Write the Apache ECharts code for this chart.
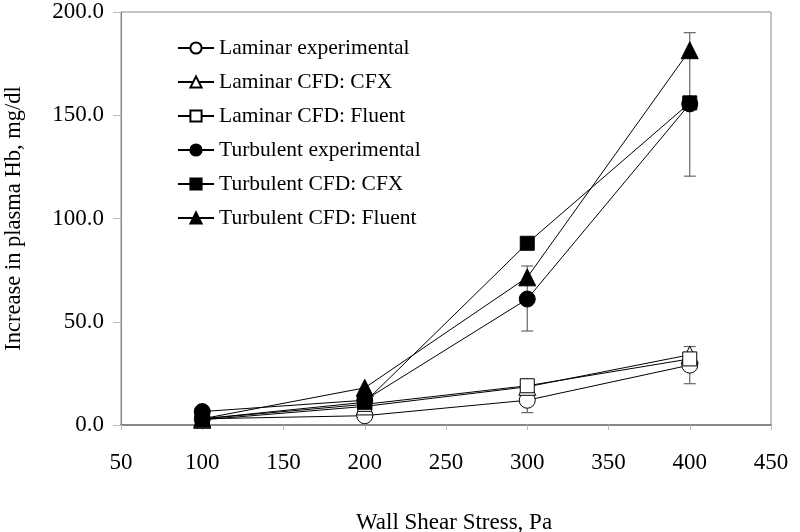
<!DOCTYPE html>
<html>
<head>
<meta charset="utf-8">
<script src="https://cdn.jsdelivr.net/npm/echarts@6/dist/echarts.min.js"></script>
<style>html,body{margin:0;padding:0;background:#fff}#c{width:800px;height:532px}</style>
</head>
<body>
<div id="c"></div>
<script>
const xValues = [100, 200, 300, 400];
const seriesNames = ["Laminar experimental", "Laminar CFD: CFX", "Laminar CFD: Fluent", "Turbulent experimental", "Turbulent CFD: CFX", "Turbulent CFD: Fluent"];
const laminarExp = [3.0, 4.5, 12.0, 29.0];
const laminarCFX = [2.5, 9.0, 18.5, 34.0];
const laminarFluent = [3.0, 10.0, 19.0, 32.0];
const turbulentExp = [6.5, 12.0, 61.0, 155.5];
const turbulentCFX = [3.0, 11.0, 88.0, 156.0];
const turbulentFluent = [3.0, 18.0, 71.5, 181.5];
const laminarExpLow = [1.5, 3.0, 6.0, 20.0];
const laminarExpHigh = [4.5, 6.0, 19.0, 38.0];
const turbulentExpLow = [5.0, 10.0, 45.5, 120.5];
const turbulentExpHigh = [8.0, 14.0, 77.0, 190.0];
const yTicks = [0, 50, 100, 150, 200];

const FONT = "Liberation Serif";
const chart = echarts.init(document.getElementById('c'), null, {renderer: 'canvas'});

const pairs = ys => xValues.map((x, i) => [x, ys[i]]);
const errData = (lo, hi) => xValues.map((x, i) => [x, lo[i], hi[i]]);

function lineSeries(name, ys, symbol, filled, size) {
  return {
    name, type: 'line', data: pairs(ys), symbol, symbolSize: size,
    lineStyle: {color: '#000', width: 1},
    itemStyle: {color: filled ? '#000' : '#fff', borderColor: '#000', borderWidth: 1},
    z: filled ? 4 : 3, animation: false
  };
}

function errSeries(data) {
  return {
    type: 'custom', data, silent: true, z: 2, animation: false,
    renderItem: (params, api) => {
      const lo = api.coord([api.value(0), api.value(1)]);
      const hi = api.coord([api.value(0), api.value(2)]);
      const w = 6;
      const st = {stroke: '#666', lineWidth: 1.2};
      return {type: 'group', children: [
        {type: 'line', shape: {x1: lo[0], y1: lo[1], x2: hi[0], y2: hi[1]}, style: st},
        {type: 'line', shape: {x1: lo[0]-w, y1: lo[1], x2: lo[0]+w, y2: lo[1]}, style: st},
        {type: 'line', shape: {x1: hi[0]-w, y1: hi[1], x2: hi[0]+w, y2: hi[1]}, style: st}
      ]};
    }
  };
}

chart.setOption({
  backgroundColor: '#fff',
  animation: false,
  grid: {left: 121, right: 29, top: 12, bottom: 107, show: true, borderColor: '#888', borderWidth: 1,
         containLabel: false, outerBoundsMode: 'none'},
  legend: {
    orient: 'vertical', left: 177, top: 37, padding: 0, itemGap: 12, itemWidth: 36, itemHeight: 14,
    data: seriesNames,
    textStyle: {fontFamily: FONT, fontSize: 21.5, color: '#000'}
  },
  xAxis: {
    type: 'value', min: 50, max: 450, interval: 50,
    name: 'Wall Shear Stress, Pa', nameLocation: 'middle', nameGap: 86,
    nameTextStyle: {fontFamily: FONT, fontSize: 23, color: '#000', padding: [0, 0, 0, 16]},
    axisLine: {show: true, lineStyle: {color: '#888', width: 2}},
    axisTick: {show: true, length: 5, inside: false, lineStyle: {color: '#bbb'}},
    axisLabel: {fontFamily: FONT, fontSize: 23, color: '#000', margin: 26},
    splitLine: {show: false}
  },
  yAxis: {
    type: 'value', min: 0, max: 200, interval: 50,
    name: 'Increase in plasma Hb, mg/dl', nameLocation: 'middle', nameGap: 95,
    nameTextStyle: {fontFamily: FONT, fontSize: 22.5, color: '#000'},
    axisLine: {show: true, lineStyle: {color: '#888', width: 1}},
    axisTick: {show: true, length: 8, inside: false, lineStyle: {color: '#bbb'}},
    axisLabel: {fontFamily: FONT, fontSize: 23, color: '#000', margin: 17,
      formatter: v => yTicks.includes(v) ? v.toFixed(1) : ''},
    splitLine: {show: false}
  },
  series: [
    errSeries(errData(laminarExpLow, laminarExpHigh)),
    errSeries(errData(turbulentExpLow, turbulentExpHigh)),
    lineSeries(seriesNames[0], laminarExp, 'circle', false, 16),
    lineSeries(seriesNames[1], laminarCFX, 'triangle', false, 17),
    lineSeries(seriesNames[2], laminarFluent, 'rect', false, 14),
    lineSeries(seriesNames[3], turbulentExp, 'circle', true, 16),
    lineSeries(seriesNames[4], turbulentCFX, 'rect', true, 14),
    lineSeries(seriesNames[5], turbulentFluent, 'triangle', true, 17)
  ]
});
</script>
</body>
</html>
